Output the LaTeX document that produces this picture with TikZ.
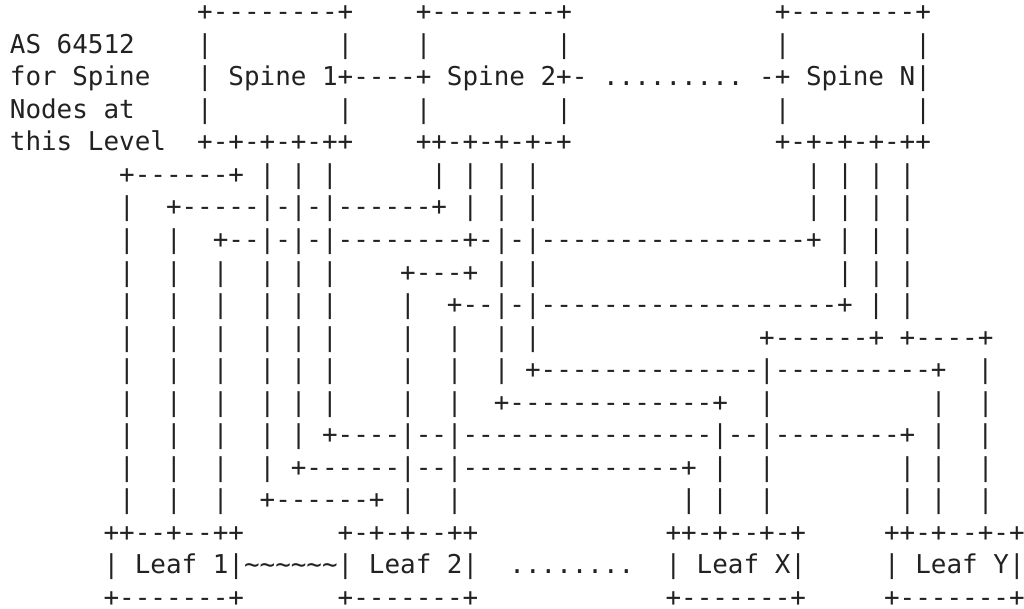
\documentclass[tikz,border=0pt]{standalone}
\usepackage{fontspec}
\setmonofont{DejaVu Sans Mono}
\definecolor{ink}{HTML}{222222}
\newcommand{\tl}{\char"7E}
\tikzset{
  rowtext/.style={anchor=base west, inner sep=0pt, outer sep=0pt,
    font=\ttfamily\fontsize{25.93pt}{32.5pt}\selectfont, text=ink}
}
\newcommand{\asciirow}[4][]{\node[rowtext,#1] (#2) at ({9.9pt},{-21pt-32.5pt*#3}) {#4};}
\begin{document}
\begin{tikzpicture}
\useasboundingbox[fill=white] (0pt,0pt) rectangle (1024pt,-609pt);
\asciirow{r0}{0}{~~~~~~~~~~~~+--------+~~~~+--------+~~~~~~~~~~~~~+--------+}
\asciirow{r1}{1}{AS~64512~~~~|~~~~~~~~|~~~~|~~~~~~~~|~~~~~~~~~~~~~|~~~~~~~~|}
\asciirow{r2}{2}{for~Spine~~~|~Spine~1+----+~Spine~2+-~.........~-+~Spine~N|}
\asciirow{r3}{3}{Nodes~at~~~~|~~~~~~~~|~~~~|~~~~~~~~|~~~~~~~~~~~~~|~~~~~~~~|}
\asciirow{r4}{4}{this~Level~~+-+-+-+-++~~~~++-+-+-+-+~~~~~~~~~~~~~+-+-+-+-++}
\asciirow{r5}{5}{~~~~~~~+------+~|~|~|~~~~~~|~|~|~|~~~~~~~~~~~~~~~~~|~|~|~|}
\asciirow{r6}{6}{~~~~~~~|~~+-----|-|-|------+~|~|~|~~~~~~~~~~~~~~~~~|~|~|~|}
\asciirow{r7}{7}{~~~~~~~|~~|~~+--|-|-|--------+-|-|-----------------+~|~|~|}
\asciirow{r8}{8}{~~~~~~~|~~|~~|~~|~|~|~~~~+---+~|~|~~~~~~~~~~~~~~~~~~~|~|~|}
\asciirow{r9}{9}{~~~~~~~|~~|~~|~~|~|~|~~~~|~~+--|-|-------------------+~|~|}
\asciirow{r10}{10}{~~~~~~~|~~|~~|~~|~|~|~~~~|~~|~~|~|~~~~~~~~~~~~~~+------+~+----+}
\asciirow{r11}{11}{~~~~~~~|~~|~~|~~|~|~|~~~~|~~|~~|~+--------------|----------+~~|}
\asciirow{r12}{12}{~~~~~~~|~~|~~|~~|~|~|~~~~|~~|~~+-------------+~~|~~~~~~~~~~|~~|}
\asciirow{r13}{13}{~~~~~~~|~~|~~|~~|~|~+----|--|----------------|--|--------+~|~~|}
\asciirow{r14}{14}{~~~~~~~|~~|~~|~~|~+------|--|--------------+~|~~|~~~~~~~~|~|~~|}
\asciirow{r15}{15}{~~~~~~~|~~|~~|~~+------+~|~~|~~~~~~~~~~~~~~|~|~~|~~~~~~~~|~|~~|}
\asciirow{r16}{16}{~~~~~~++--+--++~~~~~~+-+-+--++~~~~~~~~~~~~++-+--+-+~~~~~++-+--+-+}
\asciirow{r17}{17}{~~~~~~|~Leaf~1|\tl\tl\tl\tl\tl\tl|~Leaf~2|~~........~~|~Leaf~X|~~~~~|~Leaf~Y|}
\asciirow[text depth=0pt]{r18}{18}{~~~~~~+-------+~~~~~~+-------+~~~~~~~~~~~~+-------+~~~~~+-------+}
\end{tikzpicture}
\end{document}
